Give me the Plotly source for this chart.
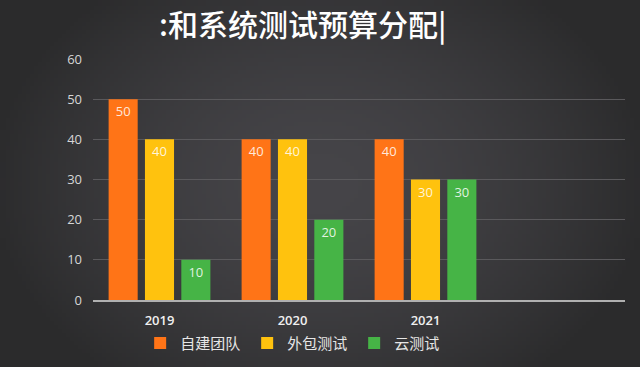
import base64, struct, zlib
import numpy as np
import plotly.graph_objects as go

categories = ["2019", "2020", "2021", " "]
series_names = ["自建团队", "外包测试", "云测试"]
self_team = [50, 40, 40, None]
outsourced = [40, 40, 30, None]
cloud = [10, 20, 30, None]
y_ticks = [0, 10, 20, 30, 40, 50, 60]
title_text = ":和系统测试预算分配|"

colors = ["#FF7417", "#FFC20E", "#46B446"]
values = [self_team, outsourced, cloud]

# soft background gradient (style only)
W, H = 160, 92
xs = np.linspace(-1, 1, W)[None, :]
ys = np.linspace(-1, 1, H)[:, None]
d = np.sqrt((xs / 1.05) ** 2 + (ys / 1.4) ** 2)
t = np.clip(d, 0, 1)
c_in = np.array([0x46, 0x45, 0x49], float)
c_out = np.array([0x2b, 0x2b, 0x2c], float)
img = (c_in[None, None, :] * (1 - t[..., None] ** 1.6) + c_out[None, None, :] * (t[..., None] ** 1.6)).astype(np.uint8)
raw = b"".join(b"\x00" + img[r].tobytes() for r in range(H))
def chunk(tag, data):
    return struct.pack(">I", len(data)) + tag + data + struct.pack(">I", zlib.crc32(tag + data) & 0xffffffff)
png = b"\x89PNG\r\n\x1a\n" + chunk(b"IHDR", struct.pack(">IIBBBBB", W, H, 8, 2, 0, 0, 0)) + chunk(b"IDAT", zlib.compress(raw)) + chunk(b"IEND", b"")
bg_uri = "data:image/png;base64," + base64.b64encode(png).decode()

fig = go.Figure()
for name, vals, col in zip(series_names, values, colors):
    fig.add_trace(go.Bar(
        x=categories, y=vals, name=name,
        marker=dict(color=col, line=dict(width=0)),
        text=[str(v) if v is not None else "" for v in vals],
        textposition="inside", insidetextanchor="end",
        textfont=dict(color="rgba(255,255,255,0.85)", size=13, family="Open Sans"),
        textangle=0,
    ))

fig.add_layout_image(dict(source=bg_uri, xref="paper", yref="paper", x=-93/532, y=1 + 59/241,
                          sizex=640/532, sizey=367/241, sizing="stretch", layer="below",
                          xanchor="left", yanchor="top"))

fig.update_layout(
    width=640, height=367,
    paper_bgcolor="#3a393c", plot_bgcolor="rgba(0,0,0,0)",
    margin=dict(l=93, r=15, t=59, b=67, autoexpand=False),
    barmode="group", bargap=0.18, bargroupgap=0.2,
    showlegend=True,
    legend=dict(orientation="h", xref="container", x=0.219, xanchor="left",
                yref="container", y=0.065, yanchor="middle",
                font=dict(color="#e6e6e6", size=15, family="Noto Sans CJK SC"),
                bgcolor="rgba(0,0,0,0)", itemwidth=30, entrywidth=62, tracegroupgap=0),
    title=dict(text=title_text, x=0.473, xanchor="center", yref="container", y=0.93, yanchor="middle",
               font=dict(color="white", size=30, family="Noto Sans CJK SC", weight=500)),
    font=dict(family="Open Sans"),
)
fig.update_xaxes(
    type="category", categoryorder="array", categoryarray=categories,
    range=[-0.5, 3.5], showgrid=False, showline=True, linecolor="#b0b0b0", linewidth=1.5,
    ticks="", tickfont=dict(color="#f0f0f0", size=13, family="Open Sans", weight=600),
    ticklabelstandoff=8, automargin=False,
)
fig.update_yaxes(
    range=[0, 60], tickvals=y_ticks, showgrid=True, gridcolor="#5a595c", gridwidth=1,
    zeroline=False, showline=False, ticks="",
    tickfont=dict(color="#d6d6d6", size=13, family="Open Sans"),
    ticklabelstandoff=10, automargin=False,
)

fig.write_html("out.html", config={"displayModeBar": False},
               post_script="document.body.style.margin='0';")
